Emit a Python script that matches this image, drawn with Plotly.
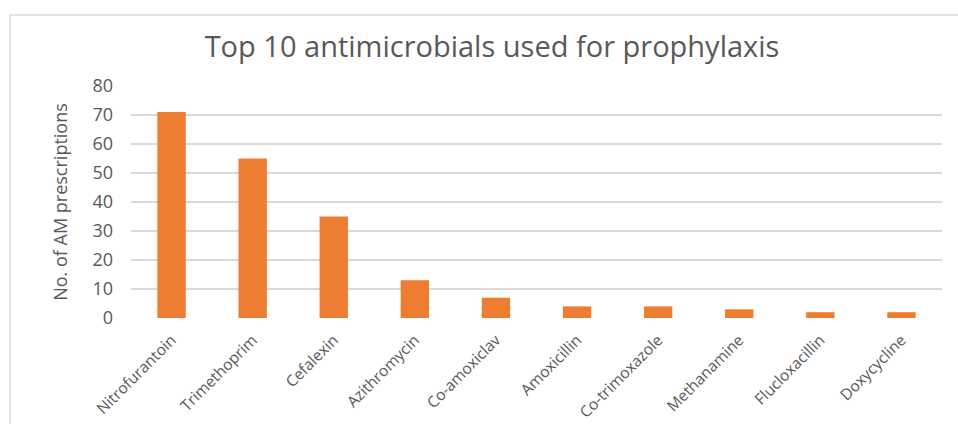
import plotly.graph_objects as go

categories = ["Nitrofurantoin", "Trimethoprim", "Cefalexin", "Azithromycin", "Co-amoxiclav",
              "Amoxicillin", "Co-trimoxazole", "Methanamine", "Flucloxacillin", "Doxycycline"]
prescriptions = [71, 55, 35, 13, 7, 4, 4, 3, 2, 2]
y_ticks = [0, 10, 20, 30, 40, 50, 60, 70, 80]

TEXT = "#595959"
GRID = "#D9D9D9"
FONT = "Open Sans"

fig = go.Figure(go.Bar(x=categories, y=prescriptions, marker=dict(color="#ED7D31", line=dict(width=0))))

fig.update_layout(
    width=958, height=424,
    margin=dict(l=131, r=16, t=86, b=106),
    paper_bgcolor="white", plot_bgcolor="white",
    bargap=0.65,
    showlegend=False,
    font=dict(family=FONT, color=TEXT),
    title=dict(text="Top 10 antimicrobials used for prophylaxis", x=0.5136, xref="container",
               xanchor="center", y=1 - 47 / 424, yref="container", yanchor="middle",
               font=dict(family=FONT, size=29, color=TEXT)),
    xaxis=dict(tickangle=-45, tickfont=dict(size=15.5, color=TEXT), showgrid=False,
               showline=False, zeroline=False, ticks="", ticklabelstandoff=9, automargin=False),
    yaxis=dict(range=[0, 80], tickvals=y_ticks, tickfont=dict(size=18, color=TEXT),
               showgrid=True, gridcolor=GRID, gridwidth=1.5, zeroline=False, showline=False,
               ticklabelstandoff=17, automargin=False,
               title=dict(text="No. of AM prescriptions", font=dict(size=18, color=TEXT), standoff=20)),
    shapes=[
        dict(type="line", xref="paper", yref="paper", x0=(10 - 131) / 811, x1=(10 - 131) / 811,
             y0=-0.6, y1=1 + (86 - 15) / 232, line=dict(color=GRID, width=1.5)),
        dict(type="line", xref="paper", yref="paper", x0=(10 - 131) / 811, x1=1.05,
             y0=1 + (86 - 15) / 232, y1=1 + (86 - 15) / 232, line=dict(color=GRID, width=1.5)),
    ],
)

fig.write_html("out.html")
